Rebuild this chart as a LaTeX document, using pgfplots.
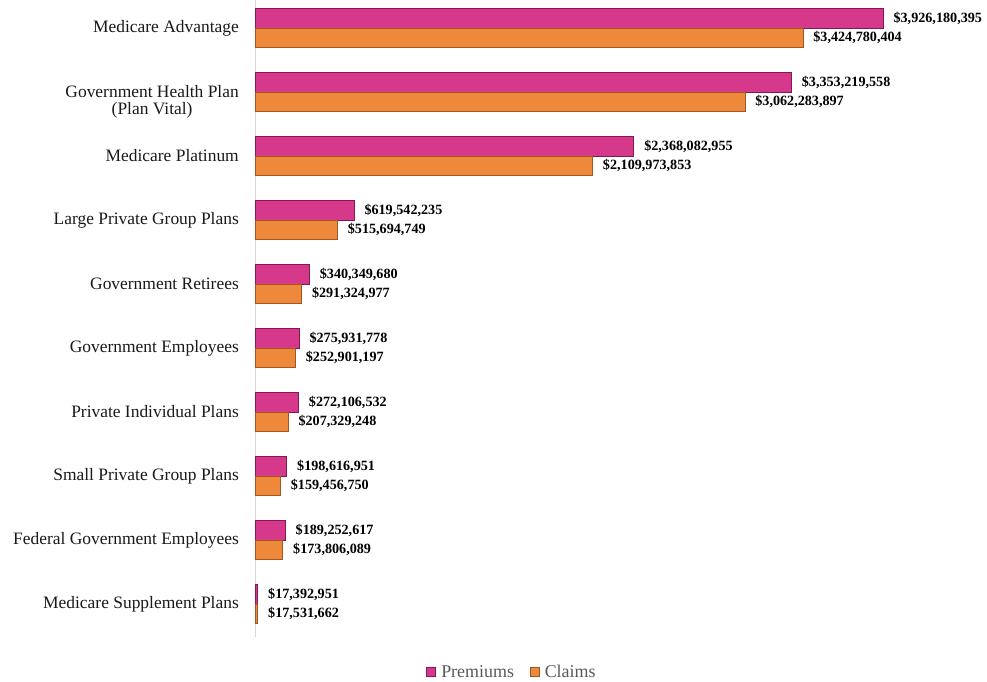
\documentclass[border=0pt]{standalone}
\usepackage{fontspec}
\setmainfont{Liberation Serif}
\usepackage{pgfplots}
\pgfplotsset{compat=1.18}
\usepackage{pgfplotstable}

\definecolor{prem}{RGB}{214,56,140}
\definecolor{premD}{RGB}{130,26,78}
\definecolor{clm}{RGB}{238,136,58}
\definecolor{clmD}{RGB}{160,86,32}

\pgfplotstableread{
y x lab
-0.1523 3926180395 3,926,180,395
0.8477 3353219558 3,353,219,558
1.8477 2368082955 2,368,082,955
2.8477 619542235 619,542,235
3.8477 340349680 340,349,680
4.8477 275931778 275,931,778
5.8477 272106532 272,106,532
6.8477 198616951 198,616,951
7.8477 189252617 189,252,617
8.8477 17392951 17,392,951
}\premtab

\pgfplotstableread{
y x lab
0.1523 3424780404 3,424,780,404
1.1523 3062283897 3,062,283,897
2.1523 2109973853 2,109,973,853
3.1523 515694749 515,694,749
4.1523 291324977 291,324,977
5.1523 252901197 252,901,197
6.1523 207329248 207,329,248
7.1523 159456750 159,456,750
8.1523 173806089 173,806,089
9.1523 17531662 17,531,662
}\clmtab

\begin{document}
\begin{tikzpicture}
\useasboundingbox (0,0) rectangle (987bp,682bp);
\begin{axis}[
  at={(255bp,45bp)}, anchor=south west,
  width=720bp, height=637bp, scale only axis,
  xbar, bar width=19.5bp, bar shift=0pt,
  xmin=0, xmax=4.5e9,
  ymin=-0.4375, ymax=9.516, y dir=reverse,
  axis x line=none, axis y line*=left,
  y axis line style={draw=black!15, line width=0.8bp},
  ytick={0,2,3,4,5,6,7,8,9},
  yticklabels={Medicare Advantage,Medicare Platinum,Large Private Group Plans,Government Retirees,Government Employees,Private Individual Plans,Small Private Group Plans,Federal Government Employees,Medicare Supplement Plans},
  extra y ticks={1},
  extra y tick labels={{Government Health Plan\\(Plan Vital)}},
  extra y tick style={yticklabel style={yshift=-10bp}},
  major tick length=0pt,
  yticklabel style={font=\fontsize{17.5}{16.5}\selectfont, align=center, text=black!90, inner sep=0pt, xshift=-16bp},
  point meta=explicit symbolic,
  nodes near coords={\$\pgfplotspointmeta},
  nodes near coords style={font=\fontsize{14.2}{16}\selectfont\bfseries, anchor=west, inner sep=0pt, xshift=10bp, text=black},
  legend style={at={(0.357,-0.055)}, anchor=center, draw=none, legend columns=2,
    font=\fontsize{18}{20}\selectfont, text=black!65, inner sep=0pt,
    /tikz/every odd column/.append style={column sep=3bp},
    /tikz/every even column/.append style={column sep=14bp}},
  legend image code/.code={\draw[#1] (0bp,-4.5bp) rectangle (9bp,4.5bp);},
]
\addplot[xbar, bar shift=0pt, draw=premD, line width=0.8bp, fill=prem]
  table[x=x, y=y, meta=lab] {\premtab};
\addlegendentry{Premiums}
\addplot[xbar, bar shift=0pt, draw=clmD, line width=0.8bp, fill=clm]
  table[x=x, y=y, meta=lab] {\clmtab};
\addlegendentry{Claims}
\end{axis}
\end{tikzpicture}
\end{document}
